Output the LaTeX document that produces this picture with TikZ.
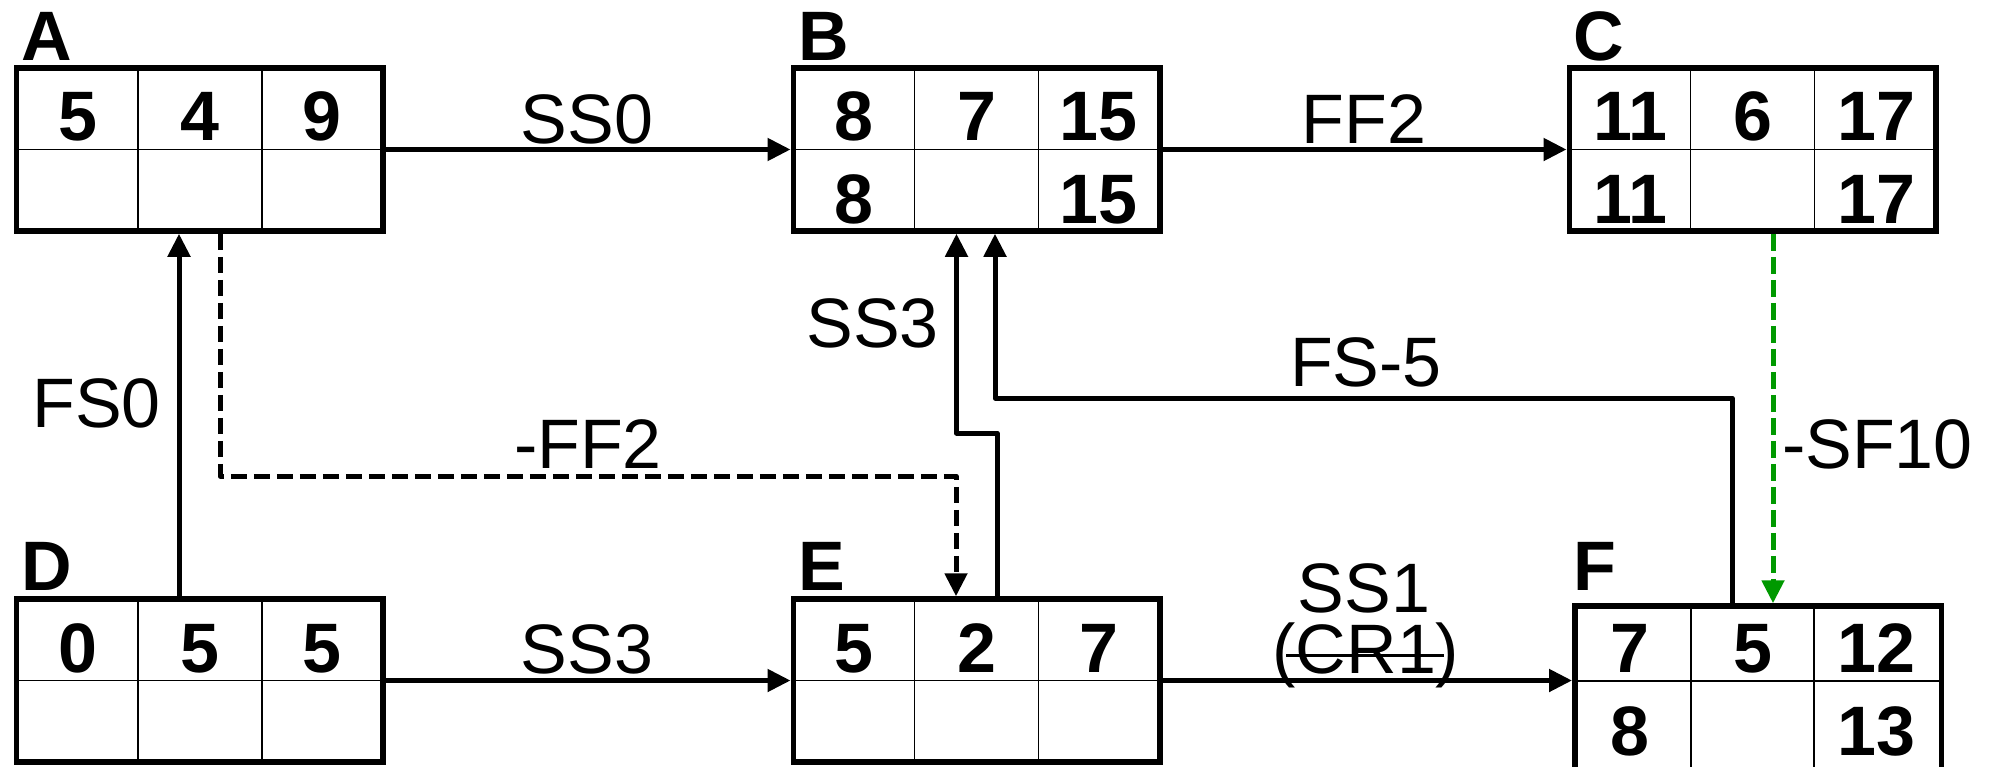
\documentclass[tikz,border=0pt]{standalone}
\usepackage{fontspec}
\setmainfont{Liberation Sans}
\usetikzlibrary{arrows.meta,calc}
\definecolor{sfgreen}{RGB}{0,153,0}
\tikzset{
  actbox/.style={draw, rectangle, line width=5.5pt, minimum width=366.5pt, minimum height=163pt, inner sep=0pt},
  cell/.style={line width=1.6pt},
  num/.style={font=\fontsize{70}{84}\selectfont\bfseries, anchor=base, inner sep=0pt},
  tag/.style={font=\fontsize{70}{84}\selectfont\bfseries, anchor=base west, inner sep=0pt},
  lab/.style={font=\fontsize{70}{84}\selectfont, anchor=base, inner sep=0pt},
  conn/.style={line width=5pt, line join=round, -{Triangle[length=23pt,width=22pt]}},
  dconn/.style={conn, dash pattern=on 16pt off 7pt},
  gconn/.style={conn, draw=sfgreen, dash pattern=on 17pt off 6pt},
}
\begin{document}
\begin{tikzpicture}[x=1pt, y=-1pt]
\useasboundingbox (0,0) rectangle (1992,766);
\clip (0,0) rectangle (1992,766);

% ---------- boxes ----------
\node[actbox] (A) at (199.75,149.5) {};
\node[actbox] (B) at (976.5,149.5) {};
\node[actbox] (C) at (1752.5,149.5) {};
\node[actbox] (D) at (199.75,680.5) {};
\node[actbox] (E) at (976.5,680.5) {};
\node[actbox, minimum height=170pt] (F) at (1758,691) {};

% grid lines
\foreach \b in {A,B,C,D,E}{
  \draw[cell] (\b.west) -- (\b.east);
  \draw[cell] ($(\b.north west)!1/3!(\b.north east)$) -- ($(\b.south west)!1/3!(\b.south east)$);
  \draw[cell] ($(\b.north west)!2/3!(\b.north east)$) -- ($(\b.south west)!2/3!(\b.south east)$);
}
\coordinate (f1) at (1691,681);
\coordinate (f2) at (1814,681);
\draw[cell] (F.west |- f1) -- (F.east |- f1);
\draw[cell] (F.north -| f1) -- (F.south -| f1);
\draw[cell] (F.north -| f2) -- (F.south -| f2);

% box tags
\node[tag] (tA) at (21,60) {A};
\node[tag] (tB) at (798,60) {B};
\node[tag] (tC) at (1573.5,60) {C};
\node[tag] (tD) at (21,590) {D};
\node[tag] (tE) at (798,590) {E};
\node[tag] (tF) at (1573,590) {F};

% numbers
\node[num] (A1) at (77.6,140) {5};
\node[num] (A2) at (199.75,140) {4};
\node[num] (A3) at (321.9,140) {9};

\node[num] (B1) at (854.2,140) {8};
\node[num] (B2) at (976.5,140) {7};
\node[num] (B3) at (1098.7,140) {15};
\node[num] (B4) at (854.2,223) {8};
\node[num] (B6) at (1098.7,223) {15};

\node[num] (C1) at (1630.2,140) {11};
\node[num] (C2) at (1752.5,140) {6};
\node[num] (C3) at (1876,140) {17};
\node[num] (C4) at (1630.2,223) {11};
\node[num] (C6) at (1876,223) {17};

\node[num] (D1) at (77.6,672) {0};
\node[num] (D2) at (199.75,672) {5};
\node[num] (D3) at (321.9,672) {5};

\node[num] (E1) at (854.2,672) {5};
\node[num] (E2) at (976.5,672) {2};
\node[num] (E3) at (1098.7,672) {7};

\node[num] (F1) at (1630.2,672) {7};
\node[num] (F2) at (1752.5,672) {5};
\node[num] (F3) at (1876,672) {12};
\node[num] (F4) at (1630.2,755) {8};
\node[num] (F6) at (1876,755) {13};

% ---------- connectors ----------
\draw[conn] (A.east) -- (B.west);
\draw[conn] (B.east) -- (C.west);
\draw[conn] (D.east) -- (E.west);
\draw[conn] (E.east) -- (E.east -| F.west);

\coordinate (xfs0) at (179,0);
\draw[conn] (D.north -| xfs0) -- (A.south -| xfs0);

\coordinate (c1) at (220,476);
\coordinate (c2) at (956,476);
\draw[dconn] (A.south -| c1) -- (c1) -- (c2) -- (E.north -| c2);

\coordinate (k1) at (997,433);
\coordinate (k2) at (956.5,433);
\draw[conn] (E.north -| k1) -- (k1) -- (k2) -- (B.south -| k2);

\coordinate (m1) at (1732,398);
\coordinate (m2) at (995,398);
\draw[conn] (F.north -| m1) -- (m1) -- (m2) -- (B.south -| m2);

\coordinate (g) at (1773,0);
\draw[gconn] (C.south -| g) -- (F.north -| g);

% ---------- connector labels ----------
\node[lab] (lSS0) at (587,143) {SS0};
\node[lab] (lFF2) at (1364,143) {FF2};
\node[lab] (lSS3a) at (587,673) {SS3};
\node[lab, text depth=0pt] (lSS1) at (1364,612) {SS1};
\node[lab, text height=52pt] (lCR1) at (1366,673) {(CR1)};
\draw[line width=3pt] ($(lCR1.base west)+(14,-18)$) -- ($(lCR1.base east)+(-16,-18)$);
\node[lab, anchor=base east] (lFS0) at (161,427) {FS0};
\node[lab, anchor=base east] (lSS3b) at (939,347) {SS3};
\node[lab] (lFS5) at (1366,386) {FS-5};
\node[lab] (lFF2n) at (588,468) {-FF2};
\node[lab, anchor=base west] (lSF10) at (1782,468) {-SF10};
\end{tikzpicture}
\end{document}
